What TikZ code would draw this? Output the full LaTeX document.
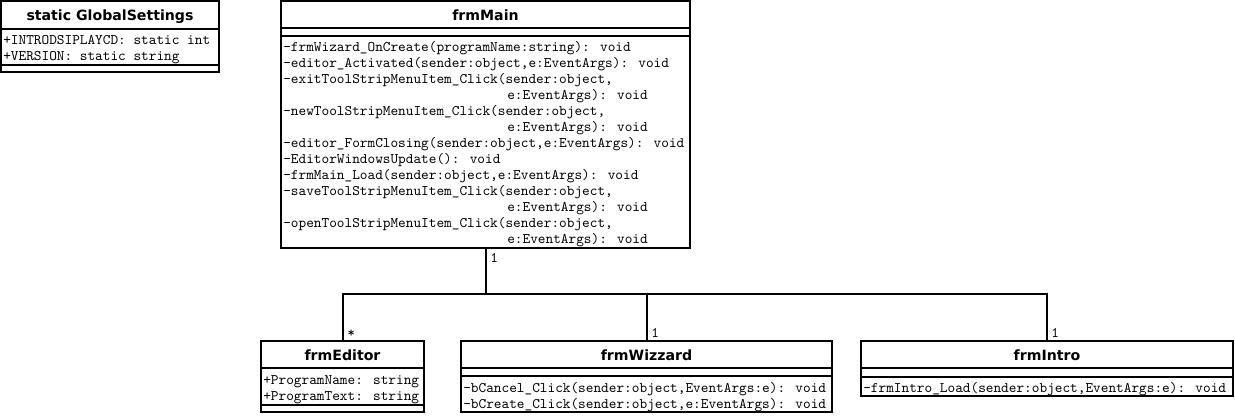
\documentclass[tikz,border=0pt]{standalone}
\usepackage{fontspec}
\usetikzlibrary{fit}
\newfontfamily\titlefam{DejaVu Sans}
\newcommand{\classfont}{\titlefam\bfseries\fontsize{10.6}{12}\selectfont}
\newcommand{\memberfont}{\ttfamily\fontsize{10.95}{12}\selectfont}
\tikzset{
  umlbox/.style={draw, line width=1.5pt, inner sep=0pt},
  classname/.style={font=\classfont, anchor=base, inner sep=0pt},
  member/.style={font=\memberfont, anchor=base west, inner sep=0pt},
  mult/.style={font=\memberfont, anchor=base west, inner sep=0pt},
  link/.style={line width=1.5pt}
}
\begin{document}
\begin{tikzpicture}[x=0.75pt,y=-0.75pt]
    \useasboundingbox (0,0) rectangle (1235,416);
    % class boxes
    \node[umlbox, fit={(1,1) (219,72)}] (settings) {};
    \node[umlbox, fit={(281,1) (690,248)}] (main) {};
    \node[umlbox, fit={(261,341) (424,412)}] (editor) {};
    \node[umlbox, fit={(461,341) (832,412)}] (wizzard) {};
    \node[umlbox, fit={(861,341) (1233,396)}] (intro) {};
    % compartments
    \draw[link] (1,29) -- (219,29);
    \draw[link] (1,65) -- (219,65);
    \draw[link] (281,28) -- (690,28);
    \draw[link] (281,36) -- (690,36);
    \draw[link] (261,368) -- (424,368);
    \draw[link] (261,405) -- (424,405);
    \draw[link] (461,368) -- (832,368);
    \draw[link] (461,376) -- (832,376);
    \draw[link] (861,368) -- (1233,368);
    \draw[link] (861,377) -- (1233,377);
    % names
    \node[classname] (settingsname) at (110,21) {static GlobalSettings};
    \node[classname] (mainname) at (485.5,20.5) {frmMain};
    \node[classname] (editorname) at (342.5,360.5) {frmEditor};
    \node[classname] (wizzardname) at (646.5,360.5) {frmWizzard};
    \node[classname] (introname) at (1047,360.5) {frmIntro};
    % members
    \node[member] (s1) at (3,44.5) {+INTRODSIPLAYCD: static int};
    \node[member] (s2) at (3,60.5) {+VERSION: static string};
    \foreach \x/\t [count=\i] in {
        283/{-frmWizard\_OnCreate(programName:string): void},
        283/{-editor\_Activated(sender:object,e:EventArgs): void},
        283/{-exitToolStripMenuItem\_Click(sender:object,},
        507/{e:EventArgs): void},
        283/{-newToolStripMenuItem\_Click(sender:object,},
        507/{e:EventArgs): void},
        283/{-editor\_FormClosing(sender:object,e:EventArgs): void},
        283/{-EditorWindowsUpdate(): void},
        283/{-frmMain\_Load(sender:object,e:EventArgs): void},
        283/{-saveToolStripMenuItem\_Click(sender:object,},
        507/{e:EventArgs): void},
        283/{-openToolStripMenuItem\_Click(sender:object,},
        507/{e:EventArgs): void}}
    \node[member] (m\i) at (\x,35.5+16*\i) {\t};
    \node[member] (e1) at (263,384.5) {+ProgramName: string};
    \node[member] (e2) at (263,400.5) {+ProgramText: string};
    \node[member] (w1) at (463,392.5) {-bCancel\_Click(sender:object,EventArgs:e): void};
    \node[member] (w2) at (463,408.5) {-bCreate\_Click(sender:object,e:EventArgs): void};
    \node[member] (i1) at (863,392.5) {-frmIntro\_Load(sender:object,EventArgs:e): void};
    % associations
    \coordinate (hub) at (485.5,294);
    \draw[link] (main.south) -- (hub);
    \draw[link] (hub) -| (editor.north);
    \draw[link] (hub) -| (wizzard.north);
    \draw[link] (hub) -| (intro.north);
    \node[mult] (mmain) at (490,263) {1};
    \node[mult] (meditor) at (347,338) {*};
    \node[mult] (mwizzard) at (651,338) {1};
    \node[mult] (mintro) at (1051,338) {1};
\end{tikzpicture}
\end{document}
